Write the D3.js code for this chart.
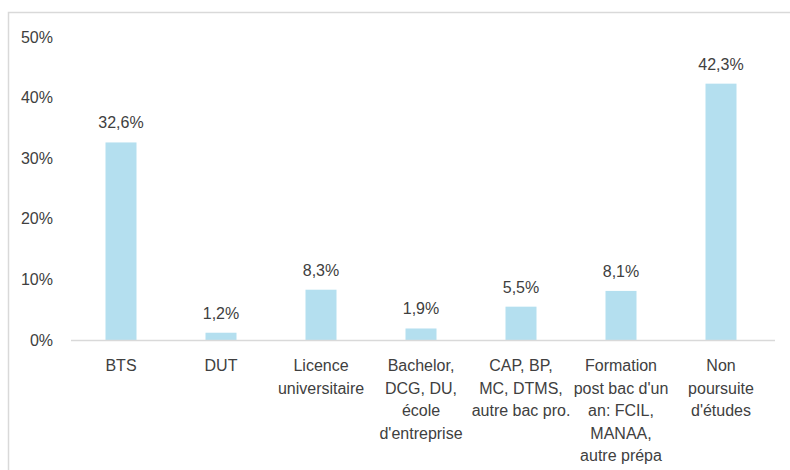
<!DOCTYPE html>
<html lang="fr">
<head>
  <meta charset="UTF-8">
  <title>Poursuite d'études</title>
  <script src="https://d3js.org/d3.v7.min.js"></script>
  <style>
    body { margin: 0; background: #fff; }
    text { font-family: "Liberation Sans", Arial, sans-serif; fill: #404040; }
  </style>
</head>
<body>
  <div id="chart"></div>

  <script>
    const categories = [
      "BTS",
      "DUT",
      "Licence\nuniversitaire",
      "Bachelor,\nDCG, DU,\nécole\nd'entreprise",
      "CAP, BP,\nMC, DTMS,\nautre bac pro.",
      "Formation\npost bac d'un\nan: FCIL,\nMANAA,\nautre prépa",
      "Non\npoursuite\nd'études"
    ];
    const values = [0.326, 0.012, 0.083, 0.019, 0.055, 0.081, 0.423];
    const valueLabels = ["32,6%", "1,2%", "8,3%", "1,9%", "5,5%", "8,1%", "42,3%"];
    const yTicks = [0, 0.1, 0.2, 0.3, 0.4, 0.5];

    const width = 790, height = 470;

    const svg = d3.select("#chart")
      .append("svg")
      .attr("width", width)
      .attr("height", height);

    // frame (only top and left edges show)
    svg.append("path")
      .attr("d", `M8.5,${height} V12.5 H${width}`)
      .attr("fill", "none")
      .attr("stroke", "#d9d9d9")
      .attr("stroke-width", 1.5);

    const x = d3.scaleBand()
      .domain(categories)
      .range([71, 771])
      .paddingInner(0.69)
      .paddingOuter(0.345);

    const y = d3.scaleLinear()
      .domain([0, 0.5])
      .range([340, 37]);

    // y axis labels
    svg.selectAll(".ytick")
      .data(yTicks)
      .enter()
      .append("text")
      .attr("class", "ytick")
      .attr("x", 53)
      .attr("y", d => y(d))
      .attr("dy", "0.35em")
      .attr("text-anchor", "end")
      .attr("font-size", "16px")
      .text(d => d3.format(".0%")(d));

    // bars
    svg.selectAll(".bar")
      .data(values)
      .enter()
      .append("rect")
      .attr("class", "bar")
      .attr("x", (d, i) => x(categories[i]))
      .attr("y", d => y(d))
      .attr("width", x.bandwidth())
      .attr("height", d => y(0) - y(d))
      .attr("fill", "#b4dfef");

    // baseline
    svg.append("line")
      .attr("x1", 71)
      .attr("x2", 775)
      .attr("y1", y(0) + 0.5)
      .attr("y2", y(0) + 0.5)
      .attr("stroke", "#d9d9d9")
      .attr("stroke-width", 1.5);

    // value labels
    svg.selectAll(".val")
      .data(values)
      .enter()
      .append("text")
      .attr("class", "val")
      .attr("x", (d, i) => x(categories[i]) + x.bandwidth() / 2)
      .attr("y", d => y(d) - 14)
      .attr("text-anchor", "middle")
      .attr("font-size", "16px")
      .text((d, i) => valueLabels[i]);

    // category labels
    const cat = svg.selectAll(".cat")
      .data(categories)
      .enter()
      .append("text")
      .attr("class", "cat")
      .attr("text-anchor", "middle")
      .attr("font-size", "16px")
      .attr("transform", d => `translate(${x(d) + x.bandwidth() / 2},371)`);

    cat.selectAll("tspan")
      .data(d => d.split("\n"))
      .enter()
      .append("tspan")
      .attr("x", 0)
      .attr("y", (d, i) => i * 22.5)
      .text(d => d);
  </script>
</body>
</html>
